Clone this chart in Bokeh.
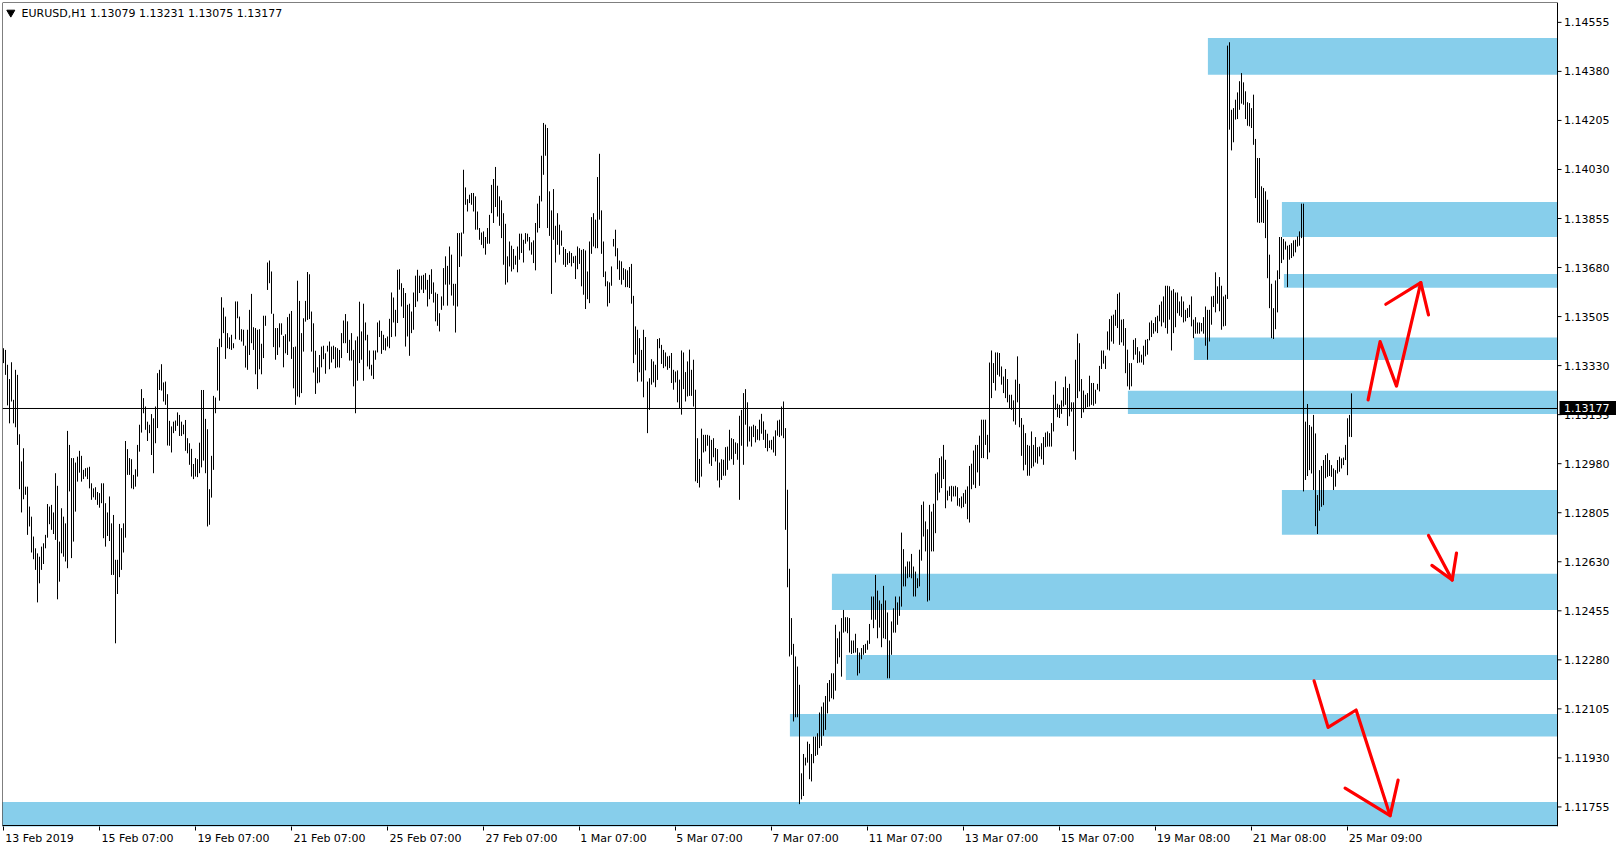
from bokeh.plotting import figure
from bokeh.models import Range1d, FixedTicker, Label, ColumnDataSource
from bokeh.core.properties import value
from bokeh.embed import file_html
from bokeh.resources import INLINE

# ---------------- data ----------------
# EURUSD H1 bars, highs and lows in points (1e-5) above 1.10000, one value per hourly bar
HIGH_PTS = [
    # 13 Feb -> 22 Feb
    3392,3386,3333,3282,3342,3208,3315,3297,3085,2988,
    3035,2898,2898,2827,2791,2720,2678,2660,2648,2684,
    2696,2726,2836,2827,2833,2806,2946,2901,2702,2821,
    2791,2767,3097,3047,3000,3000,2984,3005,3026,3008,
    2958,2964,2966,2969,2910,2892,2896,2879,2875,2910,
    2910,2839,2806,2863,2767,2797,2637,2637,2765,2750,
    2767,3061,3032,3000,2996,2940,2960,3047,3119,3246,
    3214,3184,3130,3119,3157,3142,3184,3303,3315,3335,
    3270,3273,3228,3133,3113,3130,3134,3163,3154,3130,
    3119,3136,3071,3053,3033,2979,3000,2996,3055,3243,
    3243,3140,3103,2889,3008,3222,3216,3396,3426,3574,
    3537,3505,3446,3431,3440,3410,3559,3559,3505,3460,
    3458,3401,3458,3529,3586,3467,3464,3458,3460,3408,
    3508,3508,3698,3705,3666,3515,3464,3464,3481,3481,
    3436,3442,3503,3515,3525,3396,3398,3633,3561,3446,
    3499,3561,3664,3656,3523,3481,3383,3324,3368,3398,
    3401,3374,3401,3416,3398,3401,3396,3392,3386,
    # 22 Feb -> 5 Mar
    3446,3491,3514,3488,3422,3446,3386,3420,3434,3558,
    3452,3551,3484,3440,3384,3333,3384,3384,3484,3491,
    3454,3440,3428,3434,3497,3591,3573,3529,3672,3674,
    3624,3607,3589,3547,3551,3523,3591,3651,3672,3651,
    3651,3654,3660,3636,3654,3674,3627,3591,3586,3517,
    3577,3678,3720,3686,3755,3726,3622,3622,3803,3803,
    3805,4029,3966,3924,3940,3946,3946,3934,3880,3821,
    3805,3809,3789,3821,3868,3975,3996,4039,3972,3934,
    3920,3874,3836,3720,3773,3758,3746,3722,3755,3801,
    3801,3779,3803,3801,3789,3770,3777,3839,3908,3936,
    4079,4196,4190,4178,3952,3884,3960,3829,3874,3833,
    3812,3753,3746,3732,3738,3732,3720,3722,3755,3749,
    3743,3746,3741,3666,3773,3860,3874,3851,4003,4086,
    3884,3773,3666,3631,3627,3684,3782,3815,3749,3705,
    3702,3678,3674,3670,3682,3693,3579,3470,3458,3428,
    3386,3458,3432,3273,3285,3353,3345,3333,3425,3428,
    3404,3386,3377,3363,3365,
    # 5 Mar -> 14 Mar
    3375,3315,3309,3313,3280,3384,3377,3307,3345,3387,
    3315,3351,3244,3071,2997,3105,3083,3083,3083,3080,
    3065,3071,3036,3032,2984,2996,2994,3039,3041,3101,
    3071,3068,3056,3053,3151,3172,3232,3246,3199,3113,
    3113,3119,3115,3103,3137,3158,3131,3101,3087,3063,
    3065,3077,3099,3134,3137,3184,3202,3107,2887,2605,
    2429,2337,2292,2256,2191,1875,1944,1931,1988,1980,
    1944,2006,2006,2018,2092,2113,2128,2151,2197,2208,
    2232,2232,2405,2357,2381,2429,2458,2432,2432,2429,
    2349,2349,2373,2322,2306,2322,2333,2337,2349,2408,
    2506,2506,2583,2527,2492,2480,2544,2492,2449,2349,
    2417,2464,2506,2485,2506,2734,2675,2613,2631,2631,
    2658,2613,2595,2571,2673,2833,2845,2774,2746,2833,
    2809,2837,2944,2949,3000,3006,3047,2994,2884,2899,
    2901,2899,2901,2896,2857,2863,2875,2887,2899,2972,
    2980,3027,3047,3047,3080,3137,3137,3137,3083,3341,
    3384,3339,3377,3377,3375,
    # 14 Mar -> 22 Mar
    3327,3291,3318,3282,3226,3226,3206,3280,3363,3265,
    3143,3119,3089,3047,3044,3095,3047,3075,3039,3041,
    3053,3075,3091,3095,3089,3125,3226,3274,3194,3190,
    3206,3253,3291,3250,3265,3199,3199,3351,3444,3410,
    3282,3241,3226,3232,3294,3268,3268,3244,3265,3329,
    3384,3384,3365,3452,3496,3508,3512,3529,3586,3591,
    3494,3496,3464,3387,3339,3339,3422,3428,3396,3381,
    3369,3401,3422,3425,3484,3491,3482,3503,3508,3547,
    3559,3577,3615,3615,3613,3598,3603,3591,3591,3559,
    3577,3559,3529,3535,3547,3577,3494,3503,3484,3484,
    3482,3503,3541,3529,3529,3577,3579,3663,3613,3646,
    3615,3577,3583,4472,4484,4243,4249,4279,4305,4345,
    4374,4341,4309,4270,4267,4249,4297,4139,4071,4071,
    3970,3964,3952,3922,3726,3622,3535,3634,3670,3789,
    3789,3782,3773,3758,3761,3767,3777,3779,3791,3809,
    3908,3908,
    # 22 Mar -> 25 Mar 11:00
    3130,3193,3118,3112,3154,3088,2868,2957,2972,2993,
    3011,3017,2993,2975,2963,2957,2993,3005,2999,3002,
    3047,3142,3154,3231,
]
LOW_PTS = [
    3339,3297,3188,3124,3202,3124,3110,3047,2889,2806,
    2853,2869,2726,2756,2663,2639,2601,2485,2553,2601,
    2622,2678,2716,2764,2744,2729,2708,2496,2559,2660,
    2648,2631,2607,2881,2643,2702,2809,2916,2948,2916,
    2925,2934,2925,2892,2851,2860,2851,2833,2823,2839,
    2714,2684,2722,2704,2583,2583,2339,2515,2575,2601,
    2663,2716,2940,2940,2892,2889,2898,2934,3023,3091,
    3160,3101,3061,3089,3011,2946,3053,3107,3243,3241,
    3202,3190,3045,3044,3020,3089,3097,3115,3079,3079,
    3085,3026,3017,2976,2934,2925,2934,2932,2946,2967,
    2991,2946,2756,2762,2859,2958,3160,3241,3205,3396,
    3446,3354,3392,3389,3386,3392,3424,3499,3422,3416,
    3401,3323,3315,3368,3410,3386,3299,3246,3317,3299,
    3357,3472,3600,3624,3515,3396,3351,3368,3395,3440,
    3324,3374,3368,3416,3354,3249,3190,3220,3217,3232,
    3380,3487,3493,3496,3380,3305,3229,3267,3270,3324,
    3353,3301,3380,3317,3341,3353,3321,3324,3323,
    3357,3410,3410,3375,3348,3348,3256,3160,3276,3339,
    3351,3276,3420,3327,3317,3294,3282,3351,3377,3432,
    3372,3386,3384,3398,3392,3432,3484,3434,3482,3601,
    3541,3500,3398,3434,3365,3446,3458,3539,3559,3589,
    3601,3589,3601,3541,3567,3586,3555,3488,3472,3452,
    3529,3544,3619,3544,3619,3580,3544,3448,3541,3682,
    3720,3801,3904,3880,3910,3904,3880,3815,3815,3779,
    3761,3749,3726,3765,3765,3874,3839,3896,3862,3829,
    3785,3690,3619,3627,3684,3666,3674,3690,3663,3708,
    3732,3698,3765,3773,3741,3726,3696,3670,3805,3821,
    3916,4011,4079,3821,3793,3586,3779,3698,3761,3726,
    3758,3690,3682,3690,3696,3684,3696,3639,3674,3693,
    3613,3583,3532,3567,3553,3729,3755,3749,3749,3851,
    3729,3646,3613,3541,3553,3615,3755,3720,3674,3636,
    3619,3636,3610,3610,3607,3551,3339,3369,3273,3306,
    3273,3217,3313,3089,3172,3262,3270,3253,3279,3392,
    3336,3321,3327,3315,3321,
    3268,3244,3270,3199,3178,3155,3246,3202,3220,3222,
    3222,3184,2917,2911,2895,2934,3020,3024,3044,2980,
    2972,3003,2988,2920,2895,2922,2937,2937,2958,2991,
    2996,2976,3015,2994,2851,3044,2976,3119,3041,3059,
    3041,3075,3056,3065,3063,3087,3065,3036,3024,3036,
    3030,3020,3008,3080,3075,3080,3071,2744,2539,2292,
    2298,2060,2075,2075,1765,1782,1794,1903,1913,1854,
    1846,1911,1937,1941,1965,1973,2009,2030,2089,2131,
    2143,2139,2170,2266,2289,2220,2377,2381,2375,2306,
    2301,2304,2306,2224,2232,2282,2298,2304,2316,2337,
    2423,2393,2423,2357,2395,2325,2357,2354,2214,2214,
    2298,2377,2377,2405,2437,2470,2542,2542,2571,2575,
    2571,2506,2506,2536,2542,2634,2720,2667,2488,2492,
    2667,2667,2732,2849,2877,2893,2925,2821,2849,2865,
    2845,2863,2863,2830,2827,2821,2825,2837,2782,2770,
    2889,2905,2893,2949,2901,3000,3000,3047,2996,3020,
    3214,3268,3241,3297,3291,
    3262,3232,3214,3199,3178,3172,3131,3119,3199,3110,
    3008,2956,2976,2937,2937,2964,2970,2984,2980,3006,
    2996,2976,3039,3041,3041,3041,3095,3172,3146,3143,
    3158,3184,3190,3115,3149,3166,3024,2994,3214,3238,
    3143,3163,3175,3182,3184,3190,3187,3194,3244,3238,
    3318,3337,3318,3387,3384,3416,3408,3472,3464,3404,
    3413,3401,3303,3256,3244,3256,3351,3369,3339,3341,
    3341,3333,3363,3369,3420,3432,3444,3452,3446,3488,
    3470,3484,3464,3444,3494,3384,3446,3467,3517,3508,
    3503,3484,3488,3500,3503,3470,3428,3444,3444,3444,
    3452,3444,3401,3351,3416,3476,3539,3520,3551,3524,
    3458,3470,3472,3568,4172,4098,4127,4208,4210,4243,
    4265,4261,4210,4186,4184,4178,4118,3928,3841,3839,
    3841,3839,3785,3642,3535,3428,3425,3460,3520,3639,
    3696,3708,3744,3610,3708,3714,3720,3734,3755,3758,
    3785,2881,
    2922,2936,2957,2945,2886,2757,2729,2812,2826,2832,
    2928,2933,2936,2933,2886,2898,2945,2951,2963,2975,
    2993,2939,3076,3075,
]

# time axis labels (bar index where each label's hour falls)
TIME_TICK_BARS = [0, 48, 96, 144, 192, 240, 288, 336, 384, 432, 480, 528, 576, 624, 672]
TIME_TICK_LABELS = ["13 Feb 2019", "15 Feb 07:00", "19 Feb 07:00", "21 Feb 07:00", "25 Feb 07:00",
                    "27 Feb 07:00", "1 Mar 07:00", "5 Mar 07:00", "7 Mar 07:00", "11 Mar 07:00",
                    "13 Mar 07:00", "15 Mar 07:00", "19 Mar 08:00", "21 Mar 08:00", "25 Mar 09:00"]
PRICE_TICKS = [1.11755, 1.11930, 1.12105, 1.12280, 1.12455, 1.12630, 1.12805, 1.12980, 1.13155,
               1.13330, 1.13505, 1.13680, 1.13855, 1.14030, 1.14205, 1.14380, 1.14555]

SYMBOL = "EURUSD,H1"
CUR_OPEN, CUR_HIGH, CUR_LOW, CUR_CLOSE = 1.13079, 1.13231, 1.13075, 1.13177

# supply / demand zones: first bar, top price, bottom price
ZONE_START = [602.2, 639.2, 640.2, 595.2, 562.2, 639.2, 414.2, 421.2, 393.2, -1.0]
ZONE_TOP = [1.14499, 1.13914, 1.13657, 1.13430, 1.13240, 1.12886, 1.12587, 1.12297, 1.12087, 1.11773]
ZONE_BOTTOM = [1.14368, 1.13789, 1.13608, 1.13350, 1.13157, 1.12726, 1.12458, 1.12208, 1.12006, 1.11600]

# hand drawn arrows (bar index, price)
ARROW_X = [[682.3, 688.3, 696.5, 708.65], [691.15, 708.65, 712.5],
           [712.5, 724.35], [714.2, 724.35, 726.5],
           [655.3, 662.3, 676.3, 693.3], [670.8, 693.3, 697.3]]
ARROW_Y = [[1.132075, 1.134155, 1.13257, 1.13626], [1.13549, 1.13626, 1.13511],
           [1.12724, 1.12565], [1.12617, 1.12565, 1.12661],
           [1.12205, 1.12039, 1.12101, 1.11724], [1.11822, 1.11724, 1.11851]]

# ---------------- layout ----------------
FW, FH = 1619, 824            # frame (chart area + price scale strip)
X0 = -0.5                     # 2 px per hourly bar
X1 = X0 + FW / 2.0
XA = 777.0                    # where the price scale starts
Y0, Y1 = 1.116852, 1.146259
px = (X1 - X0) / FW           # data units per screen pixel
py = (Y1 - Y0) / FH
FONT = "DejaVu Sans"

p = figure(frame_width=FW, frame_height=FH, x_range=Range1d(X0, X1), y_range=Range1d(Y0, Y1),
           output_backend="svg", toolbar_location=None, y_axis_location=None,
           x_axis_location="below", min_border_left=2, min_border_top=2,
           min_border_right=0, min_border_bottom=0,
           background_fill_color="white", border_fill_color="white",
           outline_line_color=None)
p.xgrid.visible = False
p.ygrid.visible = False

n = min(len(HIGH_PTS), len(LOW_PTS))
src = ColumnDataSource(dict(
    x=list(range(n)),
    hi=[1.1 + v / 1e5 for v in HIGH_PTS[:n]],
    lo=[1.1 + v / 1e5 for v in LOW_PTS[:n]],
))

# zones
p.quad(left=ZONE_START, right=[XA] * len(ZONE_START), top=ZONE_TOP, bottom=ZONE_BOTTOM,
       fill_color="#87CEEB", line_color=None)

# bars
p.segment(x0="x", y0="lo", x1="x", y1="hi", source=src, line_color="black", line_width=1)

# arrows
p.multi_line(xs=ARROW_X, ys=ARROW_Y, line_color="#FF0000", line_width=3.2,
             line_cap="round", line_join="round")

# current price line
p.segment(x0=[X0], x1=[XA], y0=[CUR_CLOSE], y1=[CUR_CLOSE], line_color="black", line_width=1)

# chart border (top, left, bottom) and price scale line
p.segment(x0=[X0, X0, X0, XA], x1=[XA, X0, XA, XA],
          y0=[Y1, Y0, Y0 + 1.0 * py, Y0], y1=[Y1, Y1, Y0 + 1.0 * py, Y1],
          line_color="black", line_width=1)

# price scale ticks and labels
p.segment(x0=[XA] * len(PRICE_TICKS), x1=[XA + 4 * px] * len(PRICE_TICKS),
          y0=PRICE_TICKS, y1=PRICE_TICKS, line_color="black", line_width=1)
p.text(x=[XA + 6.5 * px] * len(PRICE_TICKS), y=PRICE_TICKS, text=["%.5f" % t for t in PRICE_TICKS],
       text_font=value(FONT), text_font_size="11px", text_color="black",
       text_baseline="middle", text_align="left")

# current price box
p.quad(left=[XA + 2 * px], right=[XA + 58.5 * px], top=[CUR_CLOSE + 7.5 * py],
       bottom=[CUR_CLOSE - 6.5 * py], fill_color="black", line_color=None)
p.text(x=[XA + 6.5 * px], y=[CUR_CLOSE], text=["%.5f" % CUR_CLOSE], text_font=value(FONT),
       text_font_size="11px", text_color="white", text_baseline="middle", text_align="left")

# bottom time axis: labels start at the tick (MetaTrader style)
CW = {"0": .636, "1": .636, "2": .636, "3": .636, "4": .636, "5": .636, "6": .636, "7": .636,
      "8": .636, "9": .636, " ": .318, ":": .337, "F": .575, "e": .615, "b": .635, "M": .863,
      "a": .613, "r": .411}
def text_w(s, size=11):
    return sum(CW.get(c, .6) for c in s) * size

centers = [int(round(t + (1 + text_w(l) / 2) * px)) for t, l in zip(TIME_TICK_BARS, TIME_TICK_LABELS)]
xa = p.xaxis[0]
xa.ticker = FixedTicker(ticks=centers, minor_ticks=TIME_TICK_BARS)
xa.major_label_overrides = {c: l for c, l in zip(centers, TIME_TICK_LABELS)}
xa.major_tick_line_color = None
xa.major_tick_out = 4
xa.major_tick_in = 0
xa.minor_tick_line_color = "black"
xa.minor_tick_out = 4
xa.minor_tick_in = 0
xa.major_label_standoff = 1
xa.axis_line_color = None
xa.major_label_text_font = FONT
xa.major_label_text_font_size = "11px"
xa.major_label_text_color = "black"

# header (symbol, timeframe and current bar OHLC)
p.scatter(x=[X0 + 8.3 * px], y=[Y1 - 10 * py], marker="inverted_triangle", size=8,
          fill_color="black", line_color="black")
header = "%s  %.5f %.5f %.5f %.5f" % (SYMBOL, CUR_OPEN, CUR_HIGH, CUR_LOW, CUR_CLOSE)
p.add_layout(Label(x=X0 + 19 * px, y=Y1 - 10.5 * py, text=header, text_font=FONT,
                   text_font_size="11px", text_color="black", text_baseline="middle",
                   text_align="left"))

open("out.html", "w").write(file_html(p, INLINE))
